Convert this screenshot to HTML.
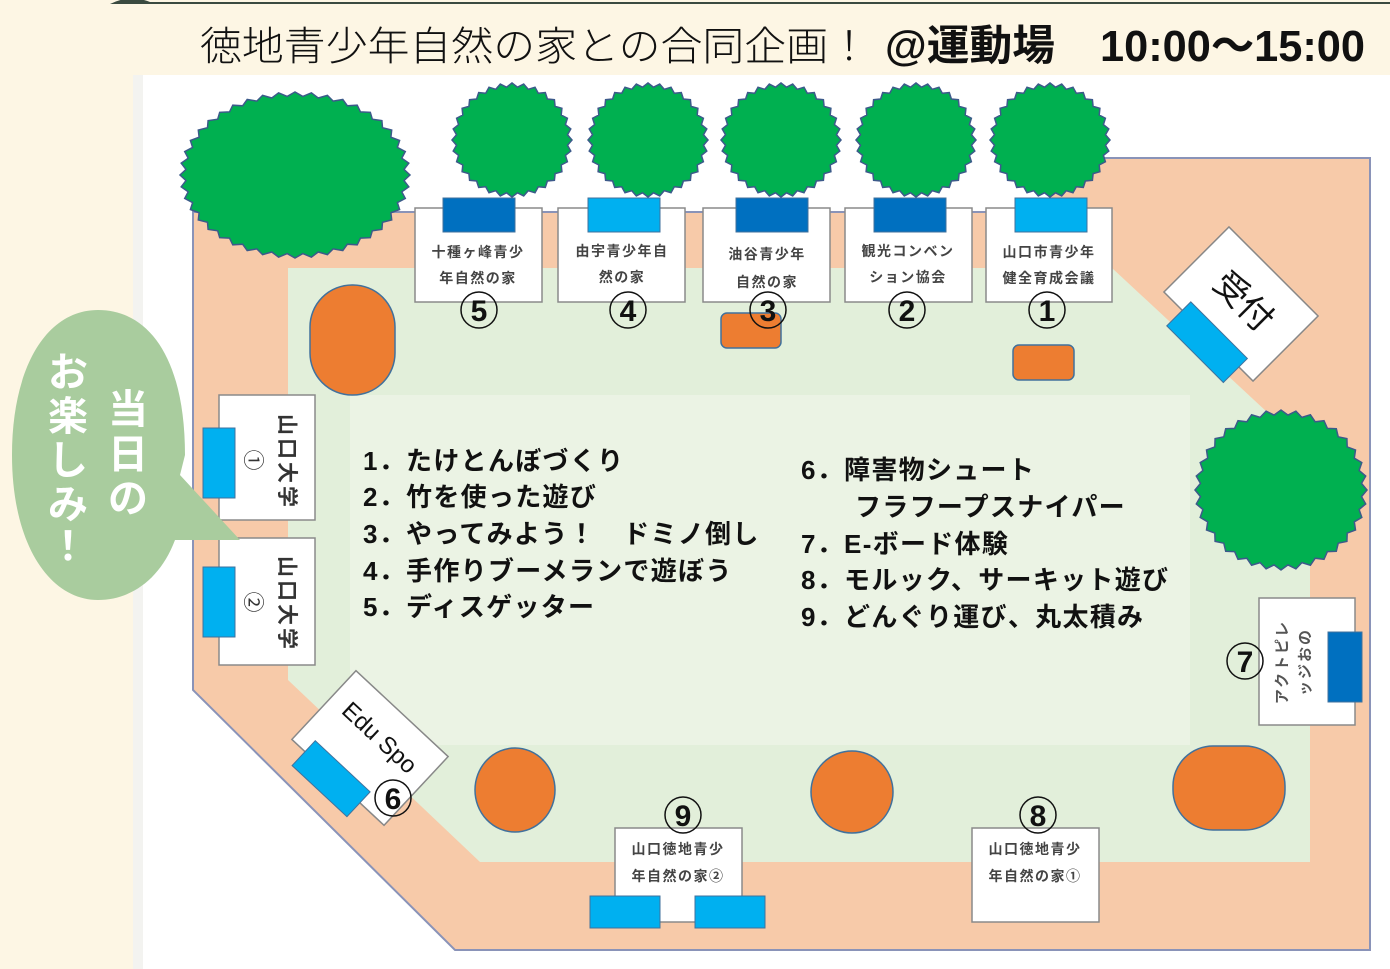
<!DOCTYPE html>
<html><head><meta charset="utf-8"><style>
html,body{margin:0;padding:0;background:#fdf6e4;}
body{width:1390px;height:969px;overflow:hidden;position:relative;font-family:"Liberation Sans","Noto Sans CJK JP",sans-serif;}
svg{position:absolute;left:0;top:0;}
</style></head><body>
<svg id="s" width="1390" height="969" viewBox="0 0 1390 969" font-family="Liberation Sans, Noto Sans CJK JP, sans-serif">
<rect x="0" y="0" width="1390" height="969" fill="#fdf6e4"/>
<path d="M110 4 Q130 -6 150 2 L1390 2 L1390 4 L150 4 Z" fill="#3a4a40"/>
<rect x="133" y="75" width="1257" height="894" fill="#ffffff"/>
<rect x="133" y="75" width="10" height="894" fill="#f3f3f0"/>
<text x="200" y="60" font-size="40" fill="#111" font-weight="300" textLength="670" lengthAdjust="spacingAndGlyphs">徳地青少年自然の家との合同企画！</text>
<text x="885" y="60" font-size="42" fill="#111" font-weight="bold" textLength="170" lengthAdjust="spacingAndGlyphs">@運動場</text>
<text x="1100" y="61" font-size="44" fill="#111" font-weight="bold" textLength="265" lengthAdjust="spacingAndGlyphs">10:00～15:00</text>
<!-- pink field -->
<polygon points="193,212 1050,212 1050,158 1370,158 1370,950 455,950 193,690" fill="#f7caa9" stroke="#8a93b8" stroke-width="2"/>
<rect x="1000" y="150" width="49" height="61" fill="#fff"/>
<!-- green field -->
<polygon points="288,268 1112,268 1310,452 1310,862 480,862 288,680" fill="#e2efda"/>
<rect x="350" y="395" width="840" height="350" fill="#ebf3e4"/>
<g id="trees" fill="#00b050" stroke="#3c5a8a" stroke-width="1.5"></g>
<!-- top booths -->
<g stroke="#8a8a8a" stroke-width="1.5" fill="#fff">
<rect x="415" y="208" width="127" height="94"/><rect x="558" y="208" width="127" height="94"/>
<rect x="703" y="208" width="127" height="94"/><rect x="845" y="208" width="127" height="94"/>
<rect x="986" y="208" width="126" height="94"/>
<rect x="219" y="395" width="96" height="125"/><rect x="219" y="538" width="96" height="127"/>
<rect x="1259" y="598" width="96" height="127"/>
<rect x="615" y="828" width="127" height="94"/><rect x="972" y="828" width="127" height="94"/>
</g>
<g stroke="#41719c" stroke-width="1">
<rect x="443" y="198" width="72" height="34" fill="#0070c0"/>
<rect x="588" y="198" width="72" height="34" fill="#00b0f0"/>
<rect x="736" y="198" width="72" height="34" fill="#0070c0"/>
<rect x="874" y="198" width="72" height="34" fill="#0070c0"/>
<rect x="1015" y="198" width="72" height="34" fill="#00b0f0"/>
<rect x="203" y="428" width="32" height="70" fill="#00b0f0"/>
<rect x="203" y="567" width="32" height="70" fill="#00b0f0"/>
<rect x="1328" y="632" width="34" height="70" fill="#0070c0"/>
<rect x="590" y="896" width="70" height="32" fill="#00b0f0"/>
<rect x="695" y="896" width="70" height="32" fill="#00b0f0"/>
</g>
<g font-size="14" fill="#444" font-weight="bold" text-anchor="middle" letter-spacing="1.5">
<text x="478" y="257">十種ヶ峰青少</text><text x="478" y="283">年自然の家</text>
<text x="622" y="256">由宇青少年自</text><text x="622" y="282">然の家</text>
<text x="767" y="259">油谷青少年</text><text x="767" y="287">自然の家</text>
<text x="908" y="256">観光コンベン</text><text x="908" y="282">ション協会</text>
<text x="1049" y="257">山口市青少年</text><text x="1049" y="283">健全育成会議</text>
<text x="678" y="854">山口徳地青少</text><text x="678" y="881">年自然の家②</text>
<text x="1035" y="854">山口徳地青少</text><text x="1035" y="881">年自然の家①</text>
</g>
<g font-size="21" fill="#333" text-anchor="middle" font-weight="bold">
<text transform="translate(287,462) rotate(90)" dy="7" letter-spacing="3">山口大学</text>
<text transform="translate(253,460) rotate(90)" dy="7" font-weight="normal">①</text>
<text transform="translate(287,604) rotate(90)" dy="7" letter-spacing="3">山口大学</text>
<text transform="translate(253,602) rotate(90)" dy="7" font-weight="normal">②</text>
</g>
<g font-size="15" fill="#555" text-anchor="middle" font-weight="bold">
<text transform="translate(1282,662) rotate(-90)" dy="5" letter-spacing="2">アクトピレ</text>
<text transform="translate(1305,662) rotate(-90)" dy="5" letter-spacing="2">ッジおの</text>
</g>
<!-- orange -->
<g fill="#ed7d31" stroke="#41719c" stroke-width="1.5">
<rect x="310" y="285" width="85" height="110" rx="42"/>
<rect x="721" y="313" width="60" height="35" rx="6"/>
<rect x="1013" y="345" width="61" height="35" rx="6"/>
<ellipse cx="515" cy="790" rx="40" ry="42"/>
<ellipse cx="852" cy="792" rx="41" ry="41"/>
<rect x="1173" y="746" width="112" height="84" rx="40"/>
</g>
<!-- 受付 -->
<g transform="translate(1241,304) rotate(45)">
<rect x="-63" y="-46" width="126" height="92" fill="#fff" stroke="#888" stroke-width="1.5"/>
<rect x="-37" y="34" width="80" height="34" fill="#00b0f0" stroke="#41719c"/>
<text x="0" y="8" font-size="34" text-anchor="middle" fill="#111">受付</text>
</g>
<!-- Edu Spo -->
<g transform="translate(370,748) rotate(43)">
<rect x="-63" y="-47" width="126" height="94" fill="#fff" stroke="#888" stroke-width="1.5"/>
<rect x="-45" y="32" width="75" height="34" fill="#00b0f0" stroke="#41719c"/>
<text x="0" y="-6" font-size="24" text-anchor="middle" fill="#111">Edu Spo</text>
</g>
<!-- circled numbers -->
<g font-size="30" font-weight="bold" text-anchor="middle" fill="#111">
<g fill="none" stroke="#111" stroke-width="1.5">
<circle cx="479" cy="310" r="18"/><circle cx="628" cy="310" r="18"/><circle cx="768" cy="310" r="18"/>
<circle cx="907" cy="310" r="18"/><circle cx="1047" cy="310" r="18"/><circle cx="393" cy="798" r="18"/>
<circle cx="1245" cy="661" r="18"/><circle cx="1038" cy="815" r="18"/><circle cx="683" cy="815" r="18"/>
</g>
<text x="479" y="321">5</text><text x="628" y="321">4</text><text x="768" y="321">3</text>
<text x="907" y="321">2</text><text x="1047" y="321">1</text><text x="393" y="809">6</text>
<text x="1245" y="672">7</text><text x="1038" y="826">8</text><text x="683" y="826">9</text>
</g>
<!-- list -->
<g font-size="26" font-weight="bold" fill="#111" letter-spacing="1.3">
<text x="363" y="470">1．たけとんぼづくり</text>
<text x="363" y="506">2．竹を使った遊び</text>
<text x="363" y="543">3．やってみよう！　ドミノ倒し</text>
<text x="363" y="580">4．手作りブーメランで遊ぼう</text>
<text x="363" y="616">5．ディスゲッター</text>
<text x="801" y="479">6．障害物シュート</text>
<text x="855" y="516">フラフープスナイパー</text>
<text x="801" y="553">7．E-ボード体験</text>
<text x="801" y="589">8．モルック、サーキット遊び</text>
<text x="801" y="626">9．どんぐり運び、丸太積み</text>
</g>
<!-- bubble -->
<path d="M185 455 C185 360 150 310 98 310 C45 310 12 370 12 455 C12 545 50 600 98 600 C130 600 160 580 175 540 L240 540 L180 475 Z" fill="#a9cc9e"/>
<g font-size="40" font-weight="bold" fill="#fff" text-anchor="middle">
<text x="128" y="423">当</text><text x="128" y="468">日</text><text x="128" y="512">の</text>
<text x="68" y="386">お</text><text x="68" y="430">楽</text><text x="68" y="474">し</text><text x="68" y="518">み</text><text x="68" y="560">！</text>
</g>
</svg>
<script>
var g=document.getElementById('trees');
function star(cx,cy,rx,ry,n,d){var p=[];for(var i=0;i<2*n;i++){var a=Math.PI*i/n;var k=i%2?1-d:1;p.push((cx+rx*k*Math.cos(a)).toFixed(1)+','+(cy+ry*k*Math.sin(a)).toFixed(1));}
var e=document.createElementNS('http://www.w3.org/2000/svg','polygon');e.setAttribute('points',p.join(' '));g.appendChild(e);}
star(295,175,115,83,44,0.05);
[512,648,781,916,1050].forEach(function(x){star(x,140,60,57,32,0.07);});
star(1281,490,86,80,36,0.06);
</script>
</body></html>
